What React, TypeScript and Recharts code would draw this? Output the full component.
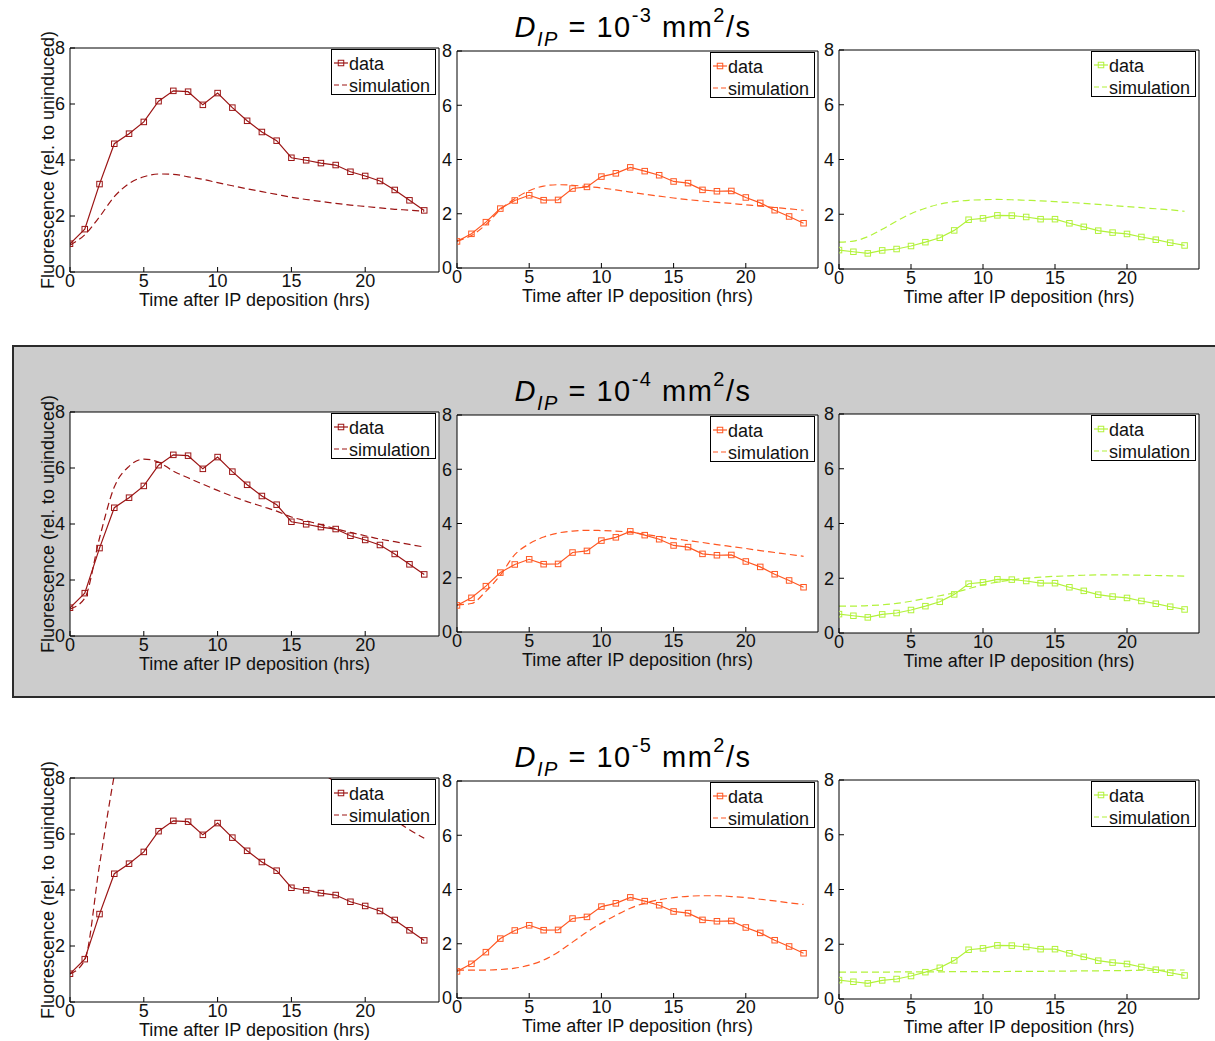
import React from 'react'
import { LineChart, Line, XAxis, YAxis, CartesianGrid, Legend } from 'recharts'

const FONT = "'Liberation Sans', Arial, Helvetica, sans-serif"

// time points (hrs after IP deposition)
const hours = [0, 1, 2, 3, 4, 5, 6, 7, 8, 9, 10, 11, 12, 13, 14, 15, 16, 17, 18, 19, 20, 21, 22, 23, 24]
const xTicks = [0, 5, 10, 15, 20]
const yTicks = [0, 2, 4, 6, 8]
const exponents = ['-3', '-4', '-5']

// measured fluorescence, one series per column (same in every row)
const dataRed = [1.01, 1.53, 3.14, 4.58, 4.94, 5.36, 6.10, 6.47, 6.44, 5.97, 6.39, 5.87, 5.40, 5.00, 4.69, 4.08, 3.99, 3.89, 3.82, 3.58, 3.43, 3.25, 2.93, 2.56, 2.20]
const dataOrange = [0.98, 1.26, 1.69, 2.19, 2.49, 2.68, 2.50, 2.51, 2.93, 2.99, 3.37, 3.49, 3.71, 3.57, 3.42, 3.19, 3.13, 2.88, 2.83, 2.84, 2.60, 2.40, 2.13, 1.90, 1.65]
const dataGreen = [0.69, 0.63, 0.57, 0.68, 0.73, 0.84, 0.98, 1.14, 1.41, 1.80, 1.85, 1.96, 1.95, 1.90, 1.82, 1.82, 1.67, 1.54, 1.40, 1.33, 1.28, 1.17, 1.07, 0.96, 0.86]

// simulations, D = 1e-3
const simRed3 = [0.96, 1.33, 1.97, 2.69, 3.16, 3.40, 3.50, 3.49, 3.40, 3.31, 3.19, 3.08, 2.97, 2.87, 2.77, 2.67, 2.59, 2.52, 2.45, 2.39, 2.34, 2.29, 2.24, 2.21, 2.17]
const simOrange3 = [1.0, 1.2, 1.6, 2.15, 2.55, 2.85, 3.02, 3.07, 3.05, 3.0, 2.95, 2.88, 2.8, 2.72, 2.65, 2.58, 2.52, 2.47, 2.42, 2.38, 2.33, 2.28, 2.23, 2.18, 2.13]
const simGreen3 = [0.98, 1.02, 1.18, 1.45, 1.75, 2.02, 2.22, 2.37, 2.46, 2.51, 2.53, 2.54, 2.53, 2.51, 2.49, 2.46, 2.43, 2.40, 2.36, 2.32, 2.28, 2.24, 2.20, 2.16, 2.11]

// simulations, D = 1e-4
const simRed4 = [0.96, 1.35, 3.5, 5.32, 6.06, 6.32, 6.21, 5.89, 5.65, 5.42, 5.20, 4.99, 4.80, 4.63, 4.46, 4.25, 4.11, 3.98, 3.83, 3.70, 3.58, 3.46, 3.37, 3.27, 3.18]
const simOrange4 = [1.0, 1.05, 1.5, 2.1, 2.85, 3.25, 3.5, 3.65, 3.72, 3.75, 3.74, 3.72, 3.68, 3.60, 3.52, 3.44, 3.37, 3.30, 3.22, 3.15, 3.08, 3.00, 2.93, 2.86, 2.79]
const simGreen4 = [0.98, 0.98, 1.0, 1.03, 1.08, 1.16, 1.26, 1.36, 1.47, 1.62, 1.76, 1.86, 1.94, 2.0, 2.04, 2.07, 2.09, 2.11, 2.12, 2.12, 2.12, 2.11, 2.10, 2.09, 2.08]

// simulations, D = 1e-5 (red one runs off the top of the axes)
const simRed5 = [1.0, 1.5, 4.9, 8.1, 10.8, 12.2, 12.6, 12.6, 12.4, 12.0, 11.5, 11.0, 10.5, 10.0, 9.5, 9.0, 8.6, 8.2, 7.85, 7.5, 7.15, 6.8, 6.5, 6.15, 5.85]
const simOrange5 = [1.03, 1.03, 1.03, 1.05, 1.1, 1.21, 1.4, 1.69, 2.06, 2.43, 2.76, 3.05, 3.31, 3.5, 3.62, 3.7, 3.75, 3.77, 3.77, 3.74, 3.7, 3.64, 3.58, 3.51, 3.45]
const simGreen5 = [0.98, 0.98, 0.98, 0.98, 0.99, 0.99, 0.99, 0.99, 1.0, 1.0, 1.0, 1.0, 1.01, 1.01, 1.01, 1.02, 1.02, 1.03, 1.03, 1.04, 1.04, 1.05, 1.05, 1.06, 1.06]

const colors = ['#9b1414', '#ff5722', '#b2f23a']
const measured = [dataRed, dataOrange, dataGreen]
const simulated = [
  [simRed3, simOrange3, simGreen3],
  [simRed4, simOrange4, simGreen4],
  [simRed5, simOrange5, simGreen5],
]

// plot box of each column in the top row, rows are shifted down
const columns = [
  { x: 70, w: 369, top: 48, h: 224 },
  { x: 457, w: 361, top: 51, h: 217 },
  { x: 839, w: 360, top: 50, h: 219 },
]
const rowShift = [0, 364, 730]

const LEG_W = 105
const LEG_H = 46

function makeSquare(color: string) {
  return (props: any) => {
    const { cx, cy, index } = props
    if (cx == null || cy == null) return <g key={index} />
    return (
      <rect key={index} x={cx - 2.75} y={cy - 2.75} width={5.5} height={5.5}
        fill="none" stroke={color} strokeWidth={1} />
    )
  }
}

function LegendBox({ color }: { color: string }) {
  return (
    <svg width={LEG_W} height={LEG_H} style={{ display: 'block' }}>
      <rect x={0.5} y={0.5} width={LEG_W - 1} height={LEG_H - 1} fill="#fff" stroke="#000" />
      <line x1={3} x2={17} y1={14} y2={14} stroke={color} strokeWidth={1.2} />
      <rect x={7.25} y={11.25} width={5.5} height={5.5} fill="none" stroke={color} />
      <text x={18} y={21} fontSize={18} fontFamily={FONT} fill="#111">data</text>
      <line x1={3} x2={17} y1={36} y2={36} stroke={color} strokeWidth={1.2} strokeDasharray="5 3" />
      <text x={18} y={43} fontSize={18} fontFamily={FONT} fill="#111">simulation</text>
    </svg>
  )
}

function yTitle(props: any) {
  const vb = props.viewBox || { x: 0, y: 0, height: 0 }
  const cx = vb.x + 24
  const cy = vb.y + vb.height / 2
  return (
    <text x={cx} y={cy} transform={`rotate(-90 ${cx} ${cy})`} textAnchor="middle"
      fontSize={18} fontFamily={FONT} fill="#111">
      Fluorescence (rel. to uninduced)
    </text>
  )
}

function Panel({ row, col }: { row: number; col: number }) {
  const geo = columns[col]
  const color = colors[col]
  const yAxisW = col === 0 ? 40 : 35
  const padTop = col === 0 ? 30 : 10
  const plotTop = geo.top + rowShift[row]
  const width = yAxisW + geo.w + 10
  const height = padTop + geo.h + 42
  const rows = hours.map((t, i) => ({ t, data: measured[col][i], sim: simulated[row][col][i] }))
  const tickStyle = { fill: '#111', fontSize: 18, fontFamily: FONT }

  return (
    <div style={{ position: 'absolute', left: geo.x - yAxisW, top: plotTop - padTop }}>
      <LineChart width={width} height={height} data={rows}
        margin={{ top: padTop - 1, right: 9, bottom: 0, left: 0 }}>
        <CartesianGrid horizontal={false} vertical={false} fill="#fff" stroke="none" />
        <XAxis dataKey="t" type="number" domain={[0, 25]} ticks={xTicks} interval={0}
          allowDataOverflow height={42} tickSize={-5} tickMargin={7} stroke="#000"
          tick={tickStyle}
          label={{ value: 'Time after IP deposition (hrs)', position: 'insideBottom', offset: 8,
            fill: '#111', fontSize: 18, fontFamily: FONT }} />
        <XAxis xAxisId="top" orientation="top" dataKey="t" type="number" domain={[0, 25]}
          ticks={xTicks} interval={0} allowDataOverflow height={1} tickSize={-5}
          tick={false} stroke="#000" />
        <YAxis type="number" domain={[0, 8]} ticks={yTicks} interval={0} allowDataOverflow
          width={yAxisW} tickSize={-5} tickMargin={10} stroke="#000" tick={tickStyle}
          label={col === 0 ? yTitle : undefined} />
        <YAxis yAxisId="right" orientation="right" type="number" domain={[0, 8]} ticks={yTicks}
          interval={0} allowDataOverflow width={1} tickSize={-5} tick={false} stroke="#000" />
        <Legend layout="horizontal" align="center" verticalAlign="middle"
          wrapperStyle={{ left: yAxisW + geo.w - 3 - LEG_W, top: padTop + 1, width: LEG_W, height: LEG_H }}
          content={() => <LegendBox color={color} />} />
        <Line dataKey="sim" type="monotone" stroke={color} strokeWidth={1.2}
          strokeDasharray="7 4" dot={false} activeDot={false} isAnimationActive={false} />
        <Line dataKey="data" type="linear" stroke={color} strokeWidth={1.2}
          dot={makeSquare(color)} activeDot={false} isAnimationActive={false} />
      </LineChart>
    </div>
  )
}

function Title({ exp, y }: { exp: string; y: number }) {
  return (
    <text x={633} y={y} textAnchor="middle" fontFamily={FONT} fontSize={29} fill="#000"
      letterSpacing={1.5}>
      <tspan fontStyle="italic">D</tspan>
      <tspan fontStyle="italic" fontSize={20} dy={9}>IP</tspan>
      <tspan dy={-9}>{' = 10'}</tspan>
      <tspan fontSize={20} dy={-15}>{exp}</tspan>
      <tspan dy={15}>{' mm'}</tspan>
      <tspan fontSize={20} dy={-15}>2</tspan>
      <tspan dy={15}>/s</tspan>
    </text>
  )
}

export default function App() {
  return (
    <div style={{ position: 'relative', width: 1215, height: 1041, background: '#fff', overflow: 'hidden' }}>
      <style>{'body{margin:0}'}</style>
      <svg width={1215} height={1041} style={{ position: 'absolute', left: 0, top: 0 }}>
        <rect x={13} y={346} width={1220} height={351} fill="#cccccc" stroke="#2b2b2b" strokeWidth={2} />
        {exponents.map((e, i) => (
          <Title key={e} exp={e} y={37 + rowShift[i]} />
        ))}
      </svg>
      {rowShift.map((_, r) =>
        columns.map((__, c) => <Panel key={`${r}-${c}`} row={r} col={c} />)
      )}
    </div>
  )
}
